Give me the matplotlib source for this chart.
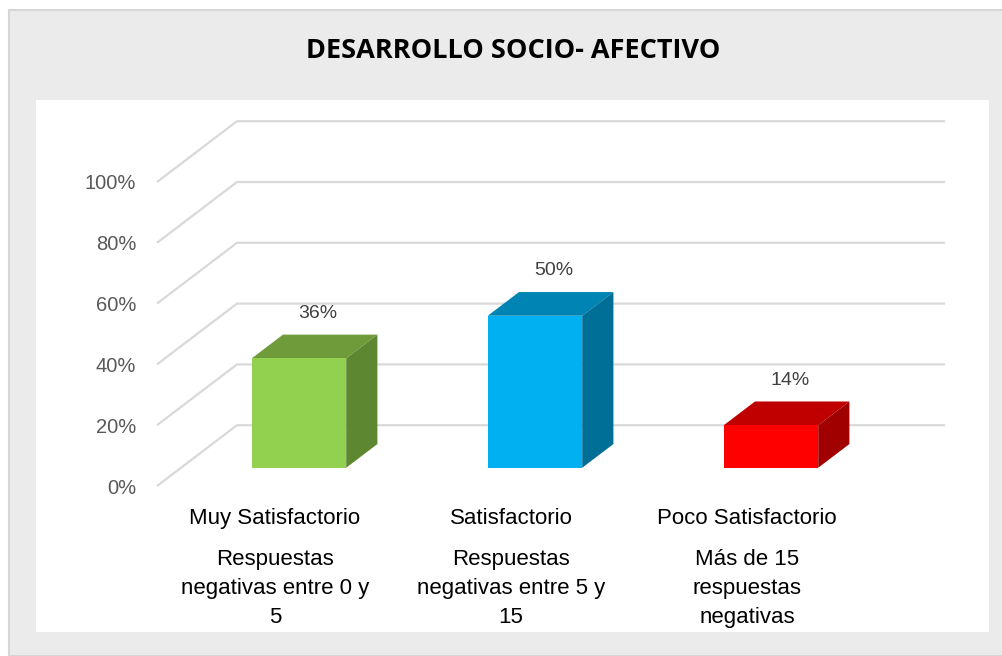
import matplotlib
matplotlib.use("Agg")
import matplotlib.pyplot as plt
from matplotlib.patches import Rectangle, Polygon
import numpy as np

# ---- data ----
categories = ["Muy Satisfactorio", "Satisfactorio", "Poco Satisfactorio"]
descriptions = ["Respuestas\nnegativas entre 0 y\n5",
                "Respuestas\nnegativas entre 5 y\n15",
                "Más de 15\nrespuestas\nnegativas"]
values = [36, 50, 14]
value_labels = ["36%", "50%", "14%"]
yticks = [0, 20, 40, 60, 80, 100]
ytick_labels = ["0%", "20%", "40%", "60%", "80%", "100%"]
title = "DESARROLLO SOCIO- AFECTIVO"

front_colors = ["#92D050", "#00B0F0", "#FF0000"]
top_colors = ["#6F9B3B", "#0084B4", "#C00000"]
side_colors = ["#5E8731", "#006F98", "#A00000"]

W, H = 1003, 656
fig = plt.figure(figsize=(W / 100, H / 100), dpi=100)
fig.patch.set_facecolor("white")

# outer gray chart area
fig.patches.append(Rectangle((9 / W, 0), (W - 9) / W, (H - 10) / H,
                             transform=fig.transFigure, facecolor="#EBEBEB",
                             edgecolor="#D6D6D6", linewidth=1.5, zorder=-5))
# inner white plot area
fig.patches.append(Rectangle((36 / W, (H - 632) / H), (989 - 36) / W, (632 - 100) / H,
                             transform=fig.transFigure, facecolor="white",
                             edgecolor="none", zorder=-4))

fig.text(513 / W, 1 - 51 / H, title, ha="center", va="center",
         fontsize=19.5, fontweight="bold", family="Open Sans", color="black")

# axes = front plane
ax_left, ax_right = 157, 865
ax_bot, ax_top = 486, 182
ax = fig.add_axes([ax_left / W, (H - ax_bot) / H, (ax_right - ax_left) / W, (ax_bot - ax_top) / H])
ax.set_facecolor("none")
ax.set_xlim(-0.5, len(categories) - 0.5)
ax.set_ylim(0, 100)
for s in ax.spines.values():
    s.set_visible(False)

# depth offsets (data units)
depth_dx, depth_dy = 0.339, 20.0
bar_front = 0.30
bar_back = 0.69
bw = 0.40

grid_c = "#D9D9D9"
x0 = -0.5
x_end = len(categories) - 0.5 + depth_dx
for t in yticks:
    ax.plot([x0, x0 + depth_dx, x_end], [t, t + depth_dy, t + depth_dy],
            color=grid_c, lw=1.6, clip_on=False, zorder=1, solid_capstyle="butt")

x = np.arange(len(categories))
fdx, fdy = bar_front * depth_dx, bar_front * depth_dy
ddx, ddy = (bar_back - bar_front) * depth_dx, (bar_back - bar_front) * depth_dy

bars = ax.bar(x + fdx, values, width=bw, bottom=fdy, color=front_colors,
              zorder=5, clip_on=False)
for i, b in enumerate(bars):
    xl = b.get_x()
    xr = xl + b.get_width()
    yb = b.get_y()
    yt = yb + b.get_height()
    top = Polygon([(xl, yt), (xl + ddx, yt + ddy), (xr + ddx, yt + ddy), (xr, yt)],
                  closed=True, facecolor=top_colors[i], edgecolor="none",
                  zorder=4, clip_on=False)
    side = Polygon([(xr, yb), (xr + ddx, yb + ddy), (xr + ddx, yt + ddy), (xr, yt)],
                   closed=True, facecolor=side_colors[i], edgecolor="none",
                   zorder=4, clip_on=False)
    ax.add_patch(top)
    ax.add_patch(side)
    ax.text(xl + bw / 2 + 0.08, yt + ddy + 7.0, value_labels[i], ha="center",
            va="center", fontsize=14, color="#404040", family="Liberation Sans")

ax.set_yticks(yticks)
ax.set_yticklabels(ytick_labels, fontsize=14.5, color="#595959", family="Liberation Sans")
ax.tick_params(axis="y", length=0, pad=15)
ax.set_xticks(x)
ax.set_xticklabels(categories, fontsize=16, color="black", family="Liberation Sans")
ax.tick_params(axis="x", length=0, pad=16)

for i, d in enumerate(descriptions):
    ax.text(x[i], 1 - (549 - ax_top) / (ax_bot - ax_top), d,
            transform=ax.get_xaxis_transform(), ha="center", va="top",
            fontsize=16, color="black", family="Liberation Sans",
            linespacing=1.5)

fig.savefig("out.png", dpi=100)
